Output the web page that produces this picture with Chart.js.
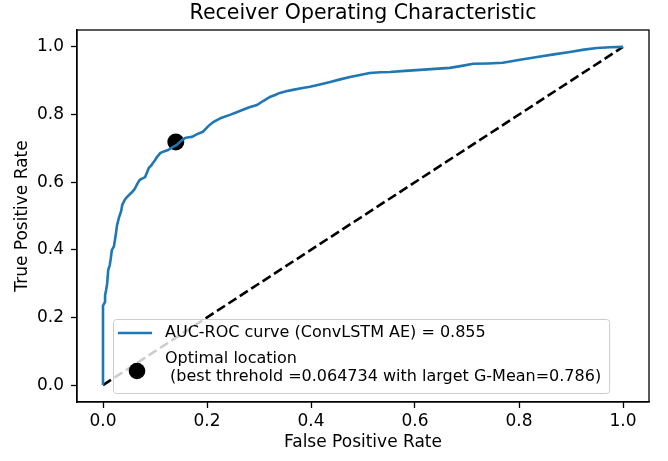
<!DOCTYPE html>
<html>
<head>
<meta charset="utf-8">
<script src="https://cdn.jsdelivr.net/npm/chart.js@4.4.1/dist/chart.umd.min.js"></script>
<style>
  html, body { margin: 0; padding: 0; background: #fff; }
  #wrap { width: 668px; height: 461px; }
</style>
</head>
<body>
<div id="wrap"><canvas id="roc" width="668" height="461"></canvas></div>
<script>
// ROC curve
const fpr = [0, 0, 0.004, 0.004, 0.006, 0.008, 0.010, 0.013, 0.015, 0.017, 0.021, 0.023, 0.025, 0.027, 0.029, 0.031, 0.035, 0.037, 0.042, 0.046, 0.052, 0.056, 0.060, 0.063, 0.067, 0.071, 0.077, 0.081, 0.085, 0.088, 0.092, 0.096, 0.100, 0.104, 0.107, 0.110, 0.117, 0.125, 0.133, 0.142, 0.150, 0.158, 0.165, 0.171, 0.181, 0.192, 0.202, 0.212, 0.227, 0.244, 0.256, 0.269, 0.283, 0.296, 0.308, 0.321, 0.331, 0.340, 0.352, 0.365, 0.381, 0.398, 0.417, 0.437, 0.456, 0.475, 0.494, 0.513, 0.533, 0.552, 0.581, 0.610, 0.638, 0.667, 0.690, 0.712, 0.740, 0.769, 0.802, 0.835, 0.867, 0.898, 0.925, 0.950, 0.975, 1.0];
const tpr = [0, 0.235, 0.246, 0.265, 0.281, 0.300, 0.340, 0.355, 0.375, 0.399, 0.410, 0.429, 0.450, 0.473, 0.485, 0.497, 0.515, 0.533, 0.548, 0.556, 0.565, 0.571, 0.578, 0.586, 0.598, 0.607, 0.612, 0.615, 0.630, 0.642, 0.648, 0.657, 0.665, 0.675, 0.680, 0.686, 0.691, 0.695, 0.703, 0.710, 0.722, 0.731, 0.733, 0.734, 0.742, 0.749, 0.765, 0.778, 0.790, 0.799, 0.806, 0.814, 0.822, 0.828, 0.840, 0.852, 0.858, 0.864, 0.869, 0.873, 0.878, 0.882, 0.889, 0.896, 0.904, 0.911, 0.917, 0.923, 0.925, 0.926, 0.929, 0.932, 0.935, 0.938, 0.944, 0.950, 0.951, 0.953, 0.962, 0.970, 0.978, 0.985, 0.992, 0.997, 0.999, 1.0];
const chanceX = [0, 1];
const chanceY = [0, 1];
const bestFpr = 0.140;
const bestTpr = 0.719;
const xTicks = [0, 0.2, 0.4, 0.6, 0.8, 1.0];
const yTicks = [0, 0.2, 0.4, 0.6, 0.8, 1.0];
const rocLabel = 'AUC-ROC curve (ConvLSTM AE) = 0.855';
const bestLabel = ['Optimal location', ' (best threhold =0.064734 with larget G-Mean=0.786)'];

const FONT = '"DejaVu Sans", sans-serif';
const BLUE = '#1f77b4';

// axes frame (top + right spines too)
const framePlugin = {
    id: 'frame',
    afterDatasetsDraw(chart) {
        const { ctx, chartArea: a } = chart;
        ctx.save();
        ctx.strokeStyle = '#000';
        ctx.lineWidth = 1.3;
        ctx.strokeRect(Math.round(a.left), Math.round(a.top), Math.round(a.right - a.left), Math.round(a.bottom - a.top));
        ctx.restore();
    }
};

// matplotlib-like legend box inside the axes
const legendPlugin = {
    id: 'mplLegend',
    afterDraw(chart) {
        const { ctx, chartArea: a } = chart;
        ctx.save();
        ctx.font = '16px ' + FONT;
        const lines = [rocLabel, ...bestLabel];
        const w = Math.max(...lines.map(t => ctx.measureText(t).width));
        const left = a.left + 36, bottom = a.bottom - 9, h = 74;
        const top = bottom - h;
        const textX = left + 52;
        const right = textX + w + 8;
        ctx.beginPath();
        ctx.roundRect(left + 0.5, top + 0.5, right - left, h, 3);
        ctx.fillStyle = 'rgba(255,255,255,0.8)';
        ctx.fill();
        ctx.strokeStyle = '#cccccc';
        ctx.lineWidth = 1;
        ctx.stroke();
        // handles
        ctx.strokeStyle = BLUE;
        ctx.lineWidth = 2.6;
        ctx.beginPath();
        ctx.moveTo(left + 5, top + 14);
        ctx.lineTo(left + 39, top + 14);
        ctx.stroke();
        ctx.fillStyle = '#000';
        ctx.beginPath();
        ctx.arc(left + 24, top + 52, 8.3, 0, Math.PI * 2);
        ctx.fill();
        // labels
        ctx.textBaseline = 'middle';
        ctx.fillStyle = '#000';
        ctx.fillText(rocLabel, textX, top + 14);
        ctx.fillText(bestLabel[0], textX, top + 40);
        ctx.fillText(bestLabel[1], textX, top + 58);
        ctx.restore();
    }
};

const axisCommon = {
    type: 'linear',
    min: -0.05,
    max: 1.05,
    grid: { drawOnChartArea: false, drawTicks: true, tickLength: 6, tickColor: '#000', tickWidth: 1.3 },
    border: { display: true, color: '#000', width: 1.3 },
    ticks: { color: '#000', font: { family: FONT, size: 17 }, callback: v => v.toFixed(1) }
};

new Chart(document.getElementById('roc'), {
    type: 'scatter',
    data: {
        datasets: [
            {
                label: rocLabel,
                data: fpr.map((x, i) => ({ x, y: tpr[i] })),
                showLine: true,
                borderColor: BLUE,
                borderWidth: 2.6,
                pointRadius: 0,
                tension: 0,
                order: 0
            },
            {
                label: bestLabel.join('\n'),
                data: [{ x: bestFpr, y: bestTpr }],
                pointRadius: 8.5,
                pointBackgroundColor: '#000',
                pointBorderWidth: 0,
                order: 1
            },
            {
                label: 'chance',
                data: chanceX.map((x, i) => ({ x, y: chanceY[i] })),
                showLine: true,
                borderColor: '#000',
                borderWidth: 2.6,
                borderDash: [9.5, 4.1],
                pointRadius: 0,
                order: 2
            }
        ]
    },
    options: {
        responsive: false,
        animation: false,
        devicePixelRatio: 1,
        layout: { padding: { left: 0, right: 19, top: 0, bottom: 0 } },
        plugins: {
            legend: { display: false },
            tooltip: { enabled: false },
            title: {
                display: true,
                fullSize: false,
                text: 'Receiver Operating Characteristic',
                color: '#000',
                font: { family: FONT, size: 20.5, weight: 'normal' },
                padding: { top: 1, bottom: 4.4 }
            }
        },
        scales: {
            x: {
                ...axisCommon,
                ticks: { ...axisCommon.ticks, padding: 3 },
                afterBuildTicks: s => { s.ticks = xTicks.map(v => ({ value: v })); },
                afterFit: s => { s.height = 59; },
                title: { display: true, text: 'False Positive Rate', color: '#000', font: { family: FONT, size: 17 }, padding: { top: 0, bottom: 8 } }
            },
            y: {
                ...axisCommon,
                ticks: { ...axisCommon.ticks, padding: 7 },
                afterBuildTicks: s => { s.ticks = yTicks.map(v => ({ value: v })); },
                afterFit: s => { s.width = 77; },
                title: { display: true, text: 'True Positive Rate', color: '#000', font: { family: FONT, size: 17 }, padding: { top: 12, bottom: 0 } }
            }
        }
    },
    plugins: [framePlugin, legendPlugin]
});
</script>
</body>
</html>
